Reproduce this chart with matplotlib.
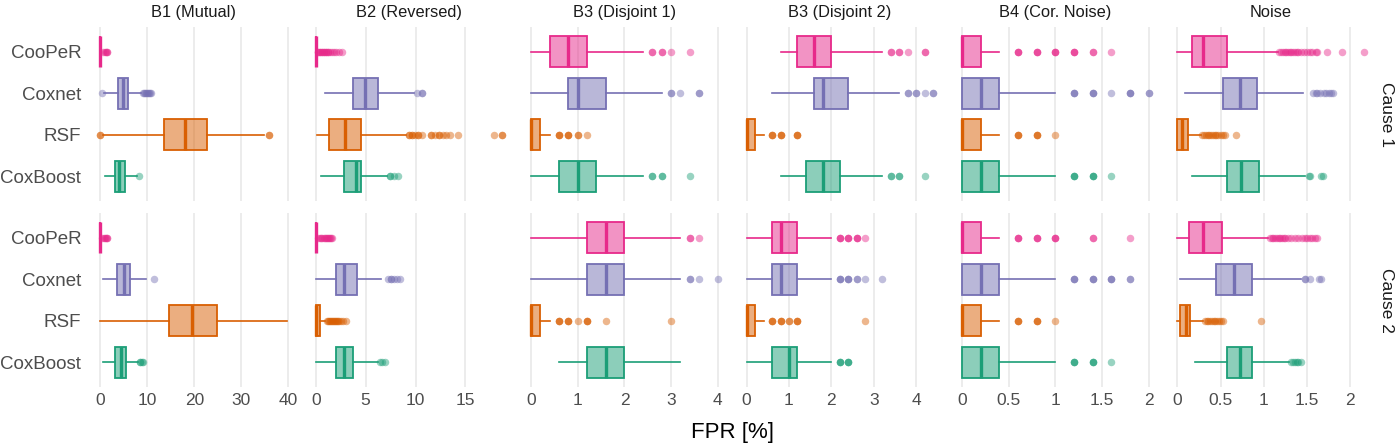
import numpy as np
import matplotlib
matplotlib.use('Agg')
import matplotlib.pyplot as plt
from matplotlib.colors import to_rgba

plt.rcParams['font.family'] = ['Liberation Sans', 'DejaVu Sans']

methods = ['CooPeR', 'Coxnet', 'RSF', 'CoxBoost']
colors = ['#E7298A', '#7570B3', '#D95F02', '#1B9E77']
panels = ['B1 (Mutual)', 'B2 (Reversed)', 'B3 (Disjoint 1)', 'B3 (Disjoint 2)',
          'B4 (Cor. Noise)', 'Noise']
causes = ['Cause 1', 'Cause 2']
xticks = [[0, 10, 20, 30, 40], [0, 5, 10, 15], [0, 1, 2, 3, 4], [0, 1, 2, 3, 4],
          [0, 0.5, 1, 1.5, 2], [0, 0.5, 1, 1.5, 2]]

# box stats per method: q1, median, q3, whisker low, whisker high
b1_c1_box = [[0, 0, 0, 0, 0], [3.8, 4.9, 5.9, 0.8, 8.6], [13.6, 18.0, 22.6, 0.5, 34.8], [3.1, 3.9, 5.2, 0.9, 7.8]]
b1_c1_out = [[0.5, 0.9, 1.2, 1.4, 1.4],
             [0.4, 9.1, 9.3, 9.5, 9.7, 9.9, 10.1, 10.3, 10.5, 10.7],
             [0.0, 0.0, 35.8, 35.8],
             [8.3]]
b2_c1_box = [[0, 0, 0, 0, 0], [3.7, 4.9, 6.2, 0.9, 9.8], [1.3, 2.9, 4.5, 0.1, 9.0], [2.85, 4.0, 4.5, 0.5, 7.1]]
b2_c1_out = [[0.2, 0.2, 0.4, 0.4, 0.6, 0.6, 0.8, 0.8, 1.0, 1.0, 1.2, 1.2, 1.4, 1.6, 1.8, 2.0, 2.3, 2.6],
             [10.1, 10.6, 10.6],
             [9.3, 9.3, 9.6, 9.6, 9.9, 10.2, 10.2, 10.6, 11.5, 11.5, 11.9, 12.3, 12.3, 12.7,
              13.0, 13.4, 14.3, 17.9, 18.7, 18.7],
             [7.4, 7.4, 7.8, 8.2]]
b3a_c1_box = [[0.4, 0.8, 1.2, 0.0, 2.4], [0.8, 1.0, 1.6, 0.0, 2.8], [0.0, 0.0, 0.2, 0.0, 0.4], [0.6, 1.0, 1.4, 0.0, 2.4]]
b3a_c1_out = [[2.6, 2.6, 2.8, 2.8, 3.0, 3.4],
              [3.0, 3.0, 3.2, 3.6, 3.6],
              [0.6, 0.6, 0.6, 0.8, 0.8, 0.8, 1.0, 1.0, 1.2],
              [2.6, 2.6, 2.8, 2.8, 3.4]]
b3b_c1_box = [[1.2, 1.6, 2.0, 0.8, 3.2], [1.6, 1.8, 2.4, 0.6, 3.6], [0.0, 0.0, 0.2, 0.0, 0.4], [1.4, 1.8, 2.2, 0.8, 3.2]]
b3b_c1_out = [[3.4, 3.4, 3.6, 3.6, 3.8, 4.2, 4.2],
              [3.8, 3.8, 4.0, 4.0, 4.2, 4.4, 4.4],
              [0.6, 0.6, 0.6, 0.8, 0.8, 0.8, 1.2, 1.2, 1.2],
              [3.4, 3.4, 3.6, 3.6, 4.2]]
b4_c1_box = [[0, 0, 0.2, 0, 0.4], [0, 0.2, 0.4, 0, 1.0], [0, 0, 0.2, 0, 0.4], [0, 0.2, 0.4, 0, 1.0]]
b4_c1_out = [[0.6, 0.6, 0.6, 0.8, 0.8, 0.8, 1.0, 1.0, 1.0, 1.2, 1.2, 1.2, 1.4, 1.4, 1.6],
             [1.2, 1.2, 1.2, 1.4, 1.4, 1.4, 1.6, 1.8, 1.8, 1.8, 2.0, 2.0],
             [0.6, 0.6, 0.6, 0.8, 0.8, 0.8, 1.0],
             [1.2, 1.2, 1.2, 1.4, 1.4, 1.4, 1.6]]
noise_c1_box = [[0.17, 0.30, 0.57, 0.0, 1.16], [0.53, 0.72, 0.92, 0.09, 1.45],
                [0.0, 0.05, 0.12, 0.0, 0.27], [0.57, 0.74, 0.94, 0.17, 1.48]]
noise_c1_out = [[1.18, 1.2, 1.22, 1.24, 1.26, 1.28, 1.3, 1.32, 1.34, 1.36, 1.38, 1.4, 1.43, 1.46,
                 1.5, 1.53, 1.56, 1.6, 1.62, 1.73, 1.9, 2.16],
                [1.57, 1.6, 1.62, 1.65, 1.7, 1.72, 1.75, 1.78, 1.8],
                [0.29, 0.31, 0.33, 0.35, 0.37, 0.39, 0.41, 0.43, 0.45, 0.47, 0.5, 0.53, 0.55, 0.68],
                [1.52, 1.54, 1.66, 1.68]]

b1_c2_box = [[0, 0, 0, 0, 0], [3.6, 5.0, 6.3, 0.6, 9.7], [14.6, 19.6, 24.9, 0.0, 39.7], [3.2, 4.5, 5.5, 0.6, 8.1]]
b1_c2_out = [[0.4, 0.8, 1.0, 1.2, 1.4, 1.5],
             [11.4],
             [],
             [8.4, 8.4, 8.8, 9.0]]
b2_c2_box = [[0, 0, 0, 0, 0], [2.0, 2.85, 4.15, 0.07, 6.5], [0, 0, 0.47, 0, 0.9], [2.0, 2.85, 3.7, 0.07, 6.25]]
b2_c2_out = [[0.2, 0.4, 0.5, 0.6, 0.8, 0.9, 1.0, 1.1, 1.2, 1.3, 1.4, 1.5, 1.6],
             [7.2, 7.5, 7.5, 7.8, 8.1, 8.4],
             [1.1, 1.2, 1.3, 1.4, 1.5, 1.6, 1.7, 1.8, 1.9, 2.0, 2.1, 2.2, 2.3, 2.5, 2.7, 3.0],
             [6.4, 6.6, 6.9]]
b3a_c2_box = [[1.2, 1.6, 2.0, 0.0, 3.2], [1.2, 1.6, 2.0, 0.0, 3.2], [0.0, 0.0, 0.2, 0.0, 0.4], [1.2, 1.6, 2.0, 0.6, 3.2]]
b3a_c2_out = [[3.4, 3.4, 3.6],
              [3.4, 3.4, 3.6, 4.0],
              [0.6, 0.6, 0.6, 0.8, 0.8, 0.8, 1.0, 1.2, 1.2, 1.2, 1.6, 3.0],
              []]
b3b_c2_box = [[0.6, 0.8, 1.2, 0.0, 2.0], [0.6, 0.8, 1.2, 0.0, 2.0], [0.0, 0.0, 0.2, 0.0, 0.4], [0.6, 1.0, 1.2, 0.0, 2.0]]
b3b_c2_out = [[2.2, 2.2, 2.2, 2.4, 2.4, 2.4, 2.6, 2.6, 2.6, 2.8],
              [2.2, 2.2, 2.2, 2.4, 2.4, 2.4, 2.6, 2.6, 2.8, 3.2],
              [0.6, 0.6, 0.6, 0.8, 0.8, 0.8, 1.0, 1.0, 1.2, 1.2, 1.2, 2.8],
              [2.2, 2.2, 2.2, 2.4, 2.4, 2.4]]
b4_c2_box = [[0, 0, 0.2, 0, 0.4], [0, 0.2, 0.4, 0, 1.0], [0, 0, 0.2, 0, 0.4], [0, 0.2, 0.4, 0, 1.0]]
b4_c2_out = [[0.6, 0.6, 0.6, 0.8, 0.8, 0.8, 1.0, 1.0, 1.0, 1.4, 1.4, 1.8],
             [1.2, 1.2, 1.2, 1.4, 1.4, 1.4, 1.6, 1.6, 1.6, 1.8, 1.8],
             [0.6, 0.6, 0.6, 0.8, 0.8, 0.8, 1.0],
             [1.2, 1.2, 1.2, 1.4, 1.4, 1.4, 1.6]]
noise_c2_box = [[0.14, 0.30, 0.52, 0.0, 1.05], [0.45, 0.66, 0.86, 0.03, 1.43],
                [0.03, 0.10, 0.145, 0.0, 0.30], [0.57, 0.72, 0.86, 0.2, 1.29]]
noise_c2_out = [[1.07, 1.09, 1.11, 1.13, 1.15, 1.17, 1.19, 1.21, 1.23, 1.25, 1.28, 1.32, 1.36,
                 1.4, 1.44, 1.48, 1.5, 1.53, 1.56, 1.59, 1.62],
                [1.48, 1.48, 1.54, 1.64, 1.66],
                [0.32, 0.34, 0.36, 0.38, 0.4, 0.42, 0.44, 0.46, 0.48, 0.5, 0.53, 0.97],
                [1.31, 1.34, 1.36, 1.38, 1.4, 1.43]]

boxes = [[b1_c1_box, b2_c1_box, b3a_c1_box, b3b_c1_box, b4_c1_box, noise_c1_box],
         [b1_c2_box, b2_c2_box, b3a_c2_box, b3b_c2_box, b4_c2_box, noise_c2_box]]
outs = [[b1_c1_out, b2_c1_out, b3a_c1_out, b3b_c1_out, b4_c1_out, noise_c1_out],
        [b1_c2_out, b2_c2_out, b3a_c2_out, b3b_c2_out, b4_c2_out, noise_c2_out]]

fig, axes = plt.subplots(2, 6, figsize=(14, 4.46), dpi=100, sharey=True)
fig.subplots_adjust(left=0.065, right=0.981, top=0.9395, bottom=0.132,
                    wspace=0.049, hspace=0.069)

for c in range(6):
    # free x scale shared within column, ggplot-like 5% expansion
    vals = []
    for r in range(2):
        for b, o in zip(boxes[r][c], outs[r][c]):
            vals += [b[3], b[4]] + list(o)
    lo, hi = min(vals), max(vals)
    pad = (hi - lo) * 0.05
    for r in range(2):
        ax = axes[r, c]
        for i, (b, o) in enumerate(zip(boxes[r][c], outs[r][c])):
            col = colors[i]
            st = [dict(q1=b[0], med=b[1], q3=b[2], whislo=b[3], whishi=b[4], fliers=[])]
            ax.bxp(st, positions=[i + 1], widths=0.75, vert=False, patch_artist=True,
                   showcaps=False, showfliers=False,
                   boxprops=dict(facecolor=to_rgba(col, 0.5), edgecolor=col, linewidth=1.3),
                   whiskerprops=dict(color=col, linewidth=1.2),
                   medianprops=dict(color=col, linewidth=2.4, solid_capstyle='butt'))
            if len(o):
                ax.plot(o, [i + 1] * len(o), 'o', color=col, alpha=0.45,
                        markersize=5.4, markeredgewidth=0, zorder=4)
        ax.set_xlim(lo - pad, hi + pad)
        ax.set_ylim(4.6, 0.4)
        ax.set_xticks(xticks[c])
        ax.set_xticklabels(['{:g}'.format(t) for t in xticks[c]])
        ax.grid(axis='x', color='#EBEBEB', linewidth=1.3)
        ax.set_axisbelow(True)
        for s in ax.spines.values():
            s.set_visible(False)
        ax.tick_params(axis='both', length=0, colors='#4D4D4D')
        ax.tick_params(axis='x', labelsize=12.5, pad=4)
        ax.tick_params(axis='y', labelsize=13.5, pad=7)
        if r == 0:
            ax.set_title(panels[c], fontsize=11.8, color='#1A1A1A', pad=7)
            ax.tick_params(axis='x', labelbottom=False)
        if c == 5:
            ax.text(1.065, 0.5, causes[r], rotation=-90, transform=ax.transAxes,
                    ha='center', va='center', fontsize=12.5, color='#1A1A1A')

axes[0, 0].set_yticks([1, 2, 3, 4])
axes[0, 0].set_yticklabels(methods)
fig.text(0.523, 0.03, 'FPR [%]', ha='center', va='center', fontsize=16, color='black')

fig.savefig('out.png', dpi=100)
